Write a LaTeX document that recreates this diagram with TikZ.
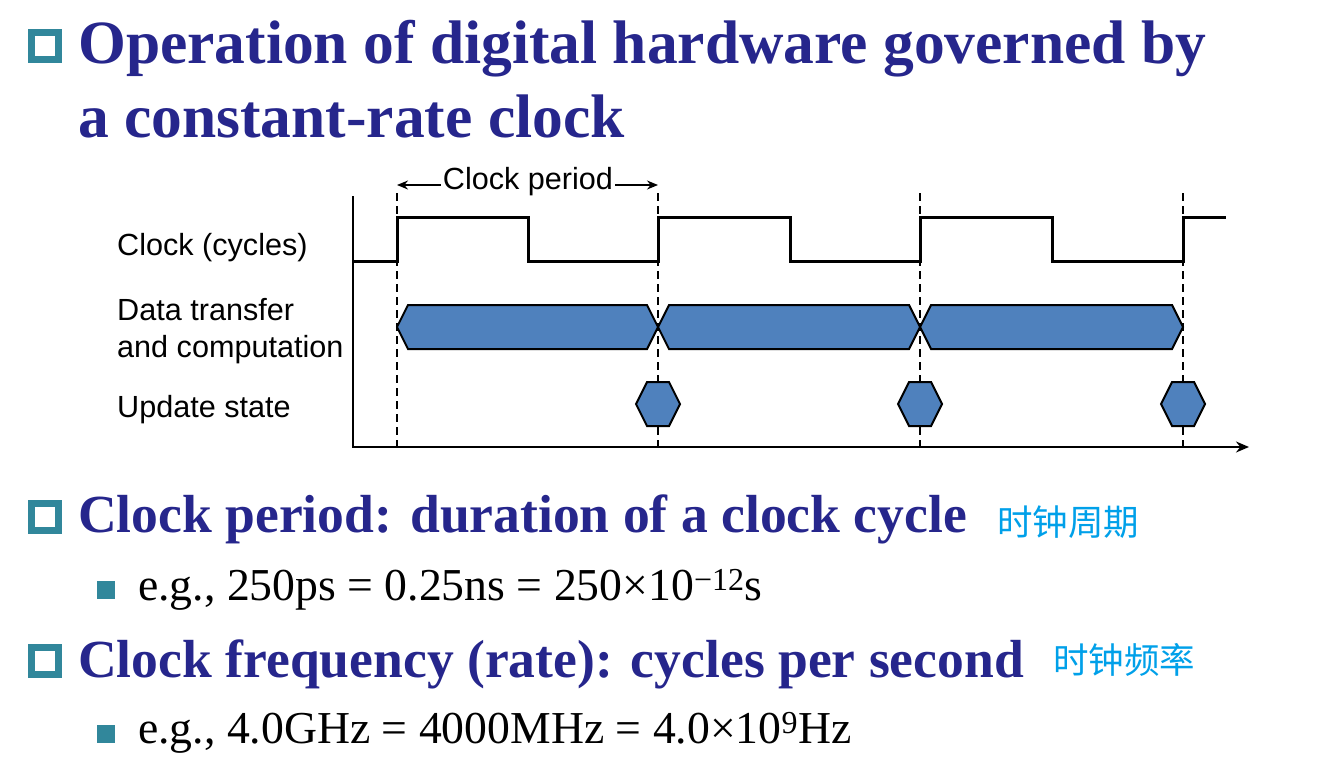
\documentclass[tikz,border=0pt]{standalone}
\usepackage{fontspec}
\setmainfont{Liberation Serif}
\newfontfamily\arialfont{Liberation Sans}
\newfontfamily\cjk{Noto Sans CJK SC}
\usetikzlibrary{arrows.meta}
\definecolor{titleblue}{RGB}{38,38,140}
\definecolor{bullteal}{RGB}{49,135,155}
\definecolor{cjkblue}{RGB}{0,160,233}
\definecolor{hexblue}{RGB}{79,129,189}

\begin{document}
\begin{tikzpicture}[>=stealth, x=1pt, y=-1pt,
  hollowbul/.style={draw=bullteal, line width=7pt, minimum size=27pt, inner sep=0pt},
  fillbul/.style={fill=bullteal, minimum size=18pt, inner sep=0pt},
  titletext/.style={anchor=base west, inner sep=0pt, text=titleblue, font=\fontsize{61.5}{61.5}\selectfont\bfseries},
  maintext/.style={anchor=base west, inner sep=0pt, text=titleblue, font=\fontsize{53.6}{53.6}\selectfont\bfseries},
  subtext/.style={anchor=base west, inner sep=0pt, font=\fontsize{45.7}{45.7}\selectfont},
  cjktext/.style={anchor=west, inner sep=0pt, text=cjkblue, font=\fontsize{35.5}{35.5}\selectfont\cjk},
  difflabel/.style={anchor=base west, inner sep=0pt, font=\fontsize{30.6}{30.6}\selectfont\arialfont},
  edgeline/.style={line width=2.2pt, dash pattern=on 8pt off 5pt},
  clockline/.style={line width=3pt},
  hexfill/.style={fill=hexblue, draw=black, line width=2pt, line join=miter}]
  \useasboundingbox (0,0) rectangle (1328,771);

  % title
  \node[hollowbul] (b1) at (45,46) {};
  \node[titletext] (t1) at (78,63) {Operation of digital hardware governed by};
  \node[titletext] (t2) at (78,137) {a constant-rate clock};

  % timing diagram
  \node[difflabel] (lclk) at (117,255) {Clock (cycles)};
  \node[difflabel] (ldat) at (117,320) {Data transfer};
  \node[difflabel] (lcmp) at (117,357) {and computation};
  \node[difflabel] (lupd) at (117,417) {Update state};

  \coordinate (orig) at (353,447);
  \coordinate (ytop) at (353,196);
  \coordinate (xend) at (1249,447);
  \draw[line width=2pt, -{Stealth[length=13pt,width=11pt]}] (ytop) -- (orig) -- (xend);

  \draw[edgeline] (397,193) -- (397,447);
  \draw[edgeline] (658,193) -- (658,447);
  \draw[edgeline] (920,193) -- (920,447);
  \draw[edgeline] (1183,193) -- (1183,447);

  \draw[clockline] (353,261) -- (397,261) -- (397,217) -- (528,217) -- (528,261)
    -- (658,261) -- (658,217) -- (790,217) -- (790,261) -- (920,261) -- (920,217)
    -- (1052,217) -- (1052,261) -- (1183,261) -- (1183,217) -- (1226,217);

  % clock period marker
  \node[difflabel, anchor=base, inner sep=2pt] (cp) at (528,189) {Clock period};
  \coordinate (cpl) at (397,185);
  \coordinate (cpr) at (658,185);
  \draw[line width=1.5pt, -{Stealth[length=11pt,width=9pt]}] (cp.west |- cpl) -- (cpl);
  \draw[line width=1.5pt, -{Stealth[length=11pt,width=9pt]}] (cp.east |- cpr) -- (cpr);

  % data transfer and computation
  \draw[hexfill] (397,327) -- (408,305) -- (647,305) -- (658,327) -- (647,349) -- (408,349) -- cycle;
  \draw[hexfill] (658,327) -- (669,305) -- (909,305) -- (920,327) -- (909,349) -- (669,349) -- cycle;
  \draw[hexfill] (920,327) -- (931,305) -- (1172,305) -- (1183,327) -- (1172,349) -- (931,349) -- cycle;

  % update state
  \draw[hexfill] (636,404) -- (647,382) -- (669,382) -- (680,404) -- (669,426) -- (647,426) -- cycle;
  \draw[hexfill] (898,404) -- (909,382) -- (931,382) -- (942,404) -- (931,426) -- (909,426) -- cycle;
  \draw[hexfill] (1161,404) -- (1172,382) -- (1194,382) -- (1205,404) -- (1194,426) -- (1172,426) -- cycle;

  % clock period
  \node[hollowbul] (b2) at (45,517) {};
  \node[maintext] (m2) at (78,532) {Clock period: duration of a clock cycle};
  \node[cjktext] (c2) at (997,522) {时钟周期};
  \node[fillbul] (s2) at (106,590) {};
  \node[subtext] (e2) at (138,600) {e.g., 250ps = 0.25ns = 250×10\textsuperscript{−12}s};

  % clock frequency
  \node[hollowbul] (b3) at (45,661) {};
  \node[maintext] (m3) at (78,677) {Clock frequency (rate): cycles per second};
  \node[cjktext] (c3) at (1053,660) {时钟频率};
  \node[fillbul] (s3) at (106,734) {};
  \node[subtext] (e3) at (138,743) {e.g., 4.0GHz = 4000MHz = 4.0×10\textsuperscript{9}Hz};
\end{tikzpicture}
\end{document}
